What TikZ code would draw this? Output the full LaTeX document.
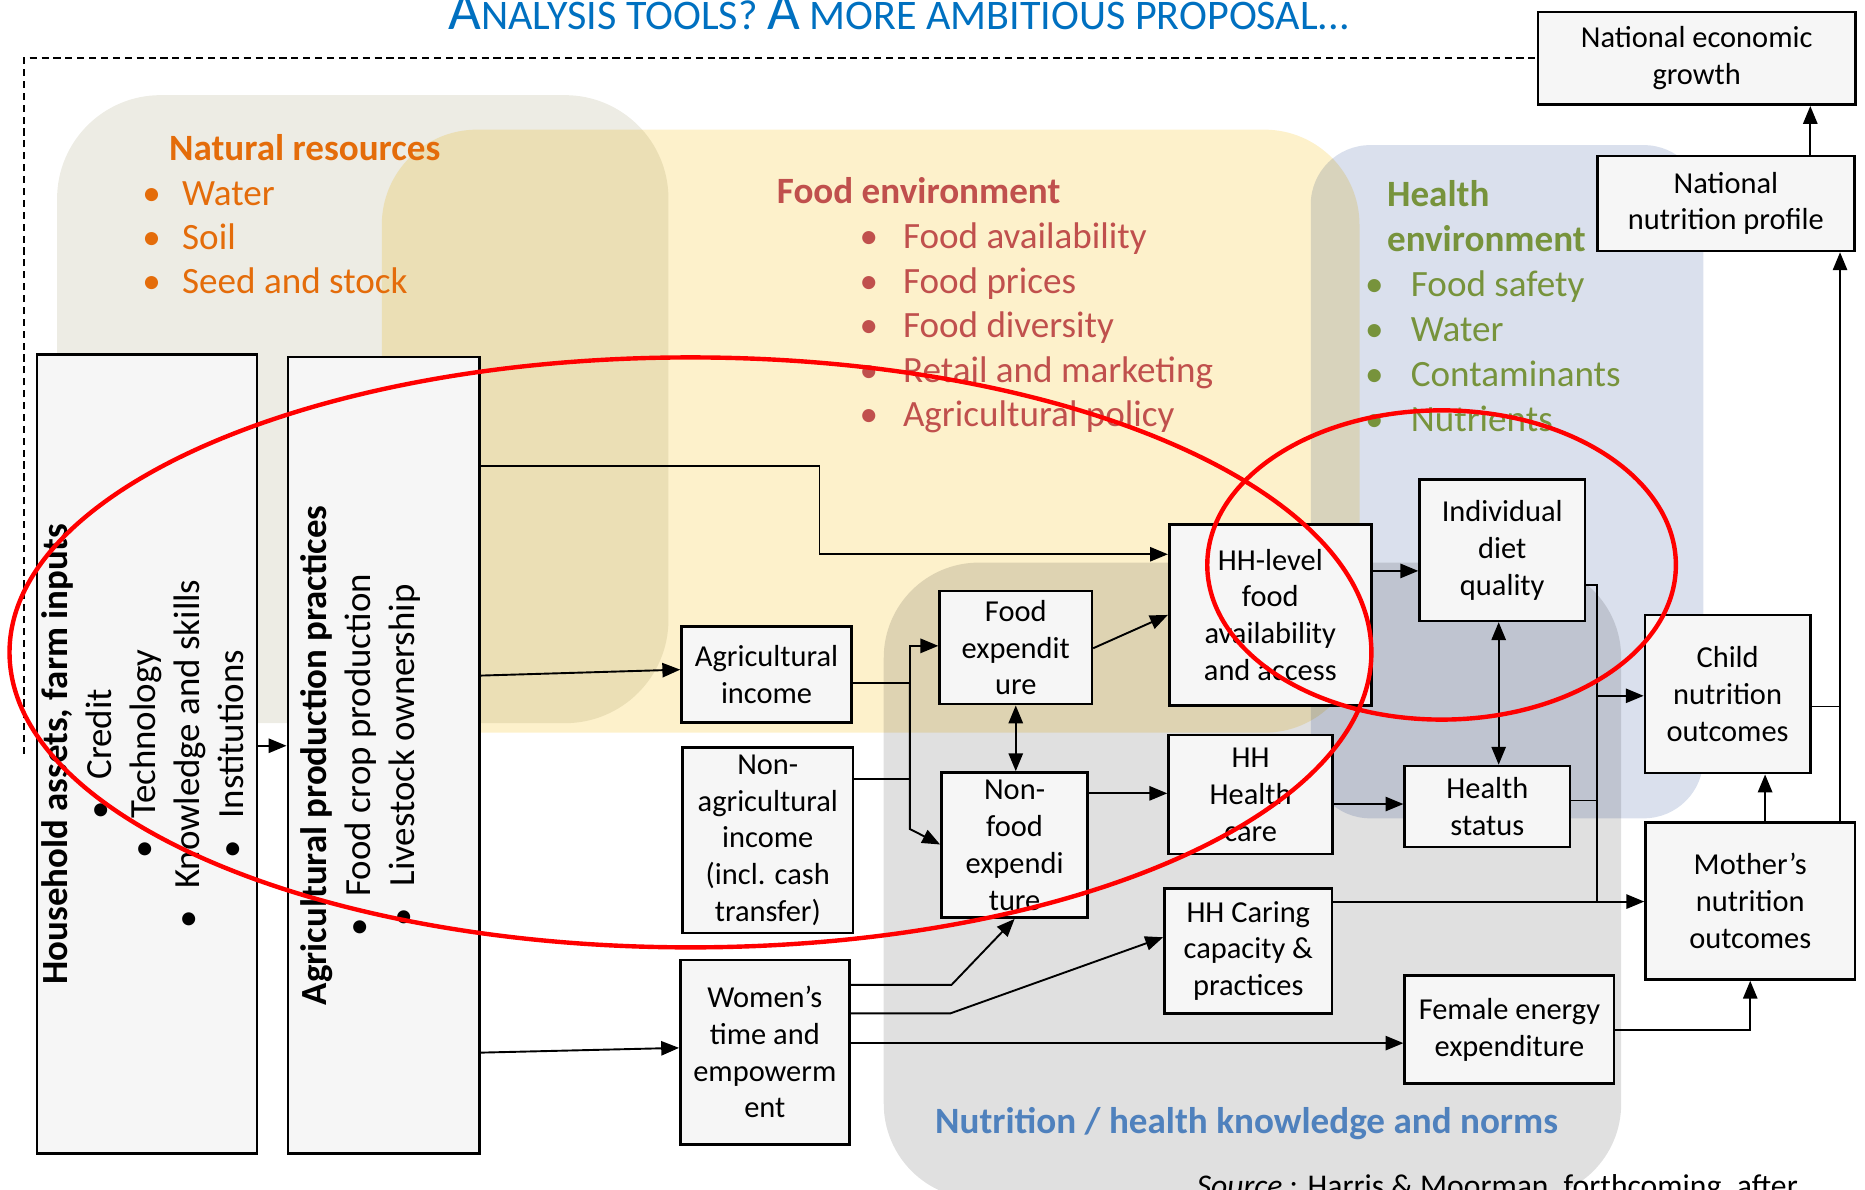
\documentclass[tikz,border=0pt]{standalone}
\usepackage{fontspec}
\setmainfont{Carlito}
\usepackage{xcolor}
\usepackage{graphicx}
\usepackage{tikz}
\usetikzlibrary{arrows.meta}

\definecolor{natfill}{RGB}{237,236,228}
\definecolor{foodfill}{RGB}{253,241,203}
\definecolor{healthfill}{RGB}{218,224,237}
\definecolor{knowfill}{RGB}{224,224,224}
\definecolor{boxfill}{RGB}{246,246,246}
\definecolor{natorange}{RGB}{228,108,10}
\definecolor{foodred}{RGB}{192,80,77}
\definecolor{healthgreen}{RGB}{119,147,60}
\definecolor{knowblue}{RGB}{79,129,189}
\definecolor{titleblue}{RGB}{0,112,192}

\newcommand\bul[1]{\llap{\textbullet\hspace{#1}}}
\newcommand\smc[1]{{\fontsize{35.4}{36}\selectfont #1}}

\begin{document}
\begin{tikzpicture}[x=1pt, y=-1pt,
    box/.style={draw, line width=2.2pt, fill=boxfill, align=center, inner sep=0pt,
        font=\fontsize{25.6}{31}\selectfont},
    conn/.style={line width=1.6pt},
    arr/.style={conn, -{Triangle[length=15pt,width=12pt]}},
    dblarr/.style={conn, {Triangle[length=15pt,width=12pt]}-{Triangle[length=15pt,width=12pt]}},
    ring/.style={draw=red, line width=3.7pt},
    txt/.style={anchor=base west, inner sep=0pt, font=\fontsize{31.2}{37}\selectfont},
    head/.style={txt, font=\fontsize{31.2}{37}\selectfont\bfseries}]
    \useasboundingbox (0,0) rectangle (1568,1000);

    \fill[natfill, blend mode=multiply, rounded corners=87pt] (48,80) rectangle (562,608);
    \fill[foodfill, blend mode=multiply, rounded corners=80pt] (321,109) rectangle (1143,616);
    \fill[healthfill, blend mode=multiply, rounded corners=50pt] (1102,122) rectangle (1432,688);
    \fill[knowfill, blend mode=multiply, rounded corners=80pt] (743,473) rectangle (1363,1008);

    \node[anchor=base, inner sep=0pt, text=titleblue, font=\fontsize{47.6}{48}\selectfont] (title) at (756,24.7)
        {A\smc{NALYSIS TOOLS? }A\smc{ MORE AMBITIOUS PROPOSAL...}};

    \node[head, text=natorange] (nrhead) at (142,135) {Natural resources};
    \node[txt, text=natorange] (nr1) at (153,172.4) {\bul{18pt}Water};
    \node[txt, text=natorange] (nr2) at (153,210) {\bul{18pt}Soil};
    \node[txt, text=natorange] (nr3) at (153,246.6) {\bul{18pt}Seed and stock};

    \node[head, text=foodred] (fehead) at (653,171) {Food environment};
    \node[txt, text=foodred] (fe1) at (759,208.8) {\bul{21pt}Food availability};
    \node[txt, text=foodred] (fe2) at (759,246.6) {\bul{21pt}Food prices};
    \node[txt, text=foodred] (fe3) at (759,283.6) {\bul{21pt}Food diversity};
    \node[txt, text=foodred] (fe4) at (759,321.5) {\bul{21pt}Retail and marketing};
    \node[txt, text=foodred] (fe5) at (759,358.7) {\bul{21pt}Agricultural policy};

    \node[head, text=healthgreen] (hehead) at (1166,174) {Health};
    \node[head, text=healthgreen] (hehead2) at (1166,211.6) {environment};
    \node[txt, text=healthgreen] (he1) at (1186,249.4) {\bul{23pt}Food safety};
    \node[txt, text=healthgreen] (he2) at (1186,287.3) {\bul{23pt}Water};
    \node[txt, text=healthgreen] (he3) at (1186,325.1) {\bul{23pt}Contaminants};
    \node[txt, text=healthgreen] (he4) at (1186,362.4) {\bul{23pt}Nutrients};

    \node[head, text=knowblue] (knhead) at (786,952.6) {Nutrition / health knowledge and norms};
    \node[txt, font=\fontsize{26.6}{32}\selectfont] (src) at (1006,1006)
        {\textit{Source} : Harris \& Moorman, forthcoming, after};

    \node[box, minimum width=177pt, minimum height=672pt] (hh) at (123.5,634)
        {\rotatebox{90}{\fontsize{31}{37}\selectfont\begin{tabular}{@{}c@{}}
        \textbf{Household assets, farm inputs}\\
        \textbullet\hspace{18pt}Credit\\
        \textbullet\hspace{18pt}Technology\\
        \textbullet\hspace{18pt}Knowledge and skills\\
        \textbullet\hspace{18pt}Institutions\end{tabular}}};
    \node[box, minimum width=161pt, minimum height=670pt] (agp) at (322.5,635)
        {\rotatebox{90}{\fontsize{31}{37}\selectfont\begin{tabular}{@{}c@{}}
        \textbf{Agricultural production practices}\\
        \textbullet\hspace{18pt}Food crop production\\
        \textbullet\hspace{18pt}Livestock ownership\\
        \mbox{}\end{tabular}}};

    \node[box, minimum width=143pt, minimum height=81pt] (agi) at (644.5,567) {Agricultural\\income};
    \node[box, minimum width=143pt, minimum height=156pt] (nai) at (645.5,706.5) {Non-\\agricultural\\income\\(incl. cash\\transfer)};
    \node[box, minimum width=142pt, minimum height=155pt] (wom) at (643,884.5) {Women’s\\time and\\empowerm\\ent};
    \node[box, minimum width=128pt, minimum height=95pt] (fex) at (854,544.5) {Food\\expendit\\ure};
    \node[box, minimum width=123pt, minimum height=122pt] (nfe) at (853,710.5) {Non-\\food\\expendi\\ture};
    \node[box, minimum width=170pt, minimum height=152pt] (hhf) at (1068,517) {HH-level\\food\\availability\\and access};
    \node[box, minimum width=138pt, minimum height=100pt] (hhc) at (1051.5,668) {HH\\Health\\care};
    \node[box, minimum width=141pt, minimum height=105pt] (hcp) at (1049.5,799.5) {HH Caring\\capacity \&\\practices};
    \node[box, minimum width=139pt, minimum height=119pt] (idq) at (1263,462.5) {Individual\\diet\\quality};
    \node[box, minimum width=139pt, minimum height=68pt] (hst) at (1250.5,678) {Health\\status};
    \node[box, minimum width=176pt, minimum height=91pt] (fee) at (1269,865.5) {Female energy\\expenditure};
    \node[box, minimum width=139pt, minimum height=133pt] (cno) at (1452.5,583.5) {Child\\nutrition\\outcomes};
    \node[box, minimum width=176pt, minimum height=132pt] (mno) at (1471.5,757.5) {Mother’s\\nutrition\\outcomes};
    \node[box, minimum width=216pt, minimum height=80pt] (nnp) at (1451,171) {National\\nutrition profile};
    \node[box, minimum width=267pt, minimum height=78pt] (neg) at (1426.5,49) {National economic\\growth};

    \coordinate (inc) at (765,574);
    \coordinate (incdn) at (765,697);
    \coordinate (wtop) at (800,828);
    \coordinate (wmid) at (799,852);
    \coordinate (agbend) at (689,392);
    \coordinate (bus) at (1343,492);
    \coordinate (busc) at (1343,585);
    \coordinate (busm) at (1343,758);
    \coordinate (rbus) at (1547,594);

    \draw[arr] (hh.east |- 0,627) -- (agp.west |- 0,627);
    \draw[arr] (agp.east |- agbend) -- (agbend) |- (hhf.west |- 0,466);
    \draw[arr] (agp.east |- 0,568) -- (agi.west |- 0,563);
    \draw[arr] (agp.east |- 0,885) -- (wom.west |- 0,881);
    \draw[conn] (agi.east |- inc) -- (inc);
    \draw[arr] (inc) |- (fex.west |- 0,543);
    \draw[arr] (inc) -- (incdn) -- (nfe.west |- 0,710);
    \draw[conn] (nai.east |- 0,655) -- (inc |- 0,655);
    \draw[dblarr] (fex.south) -- (fex.south |- nfe.north);
    \draw[arr] (fex.east |- 0,545) -- (hhf.west |- 0,517);
    \draw[arr] (nfe.east |- 0,667) -- (hhc.west |- 0,667);
    \draw[arr] (wom.east |- wtop) -- (wtop) -- (nfe.south);
    \draw[arr] (wom.east |- wmid) -- (wmid) -- (hcp.west |- 0,788);
    \draw[arr] (wom.east |- 0,877) -- (fee.west |- 0,877);
    \draw[arr] (hhf.east |- 0,480) -- (idq.west |- 0,480);
    \draw[dblarr] (idq.south -| 1260,0) -- (hst.north -| 1260,0);
    \draw[arr] (hhc.east |- 0,676) -- (hst.west |- 0,676);
    \draw[conn] (idq.east |- bus) -- (bus) -- (busm);
    \draw[arr] (busc) -- (cno.west |- busc);
    \draw[conn] (hst.east |- 0,673) -- (bus |- 0,673);
    \draw[arr] (hcp.east |- busm) -- (mno.west |- busm);
    \draw[conn] (cno.east |- rbus) -- (rbus);
    \draw[arr] (mno.north -| rbus) -- (nnp.south -| rbus);
    \draw[arr] (mno.north -| 1484,0) -- (cno.south -| 1484,0);
    \draw[arr] (fee.east |- 0,866) -| (mno.south);
    \draw[arr] (nnp.north -| 1522,0) -- (neg.south -| 1522,0);
    \draw[conn, line width=1.4pt, dash pattern=on 6pt off 4pt] ([xshift=-10pt]hh.west) |- (neg.west);

    \draw[ring] (580.5,548.5) ellipse [x radius=572.5, y radius=248];
    \draw[ring] (1212,475) ellipse [x radius=197, y radius=130];
\end{tikzpicture}
\end{document}
